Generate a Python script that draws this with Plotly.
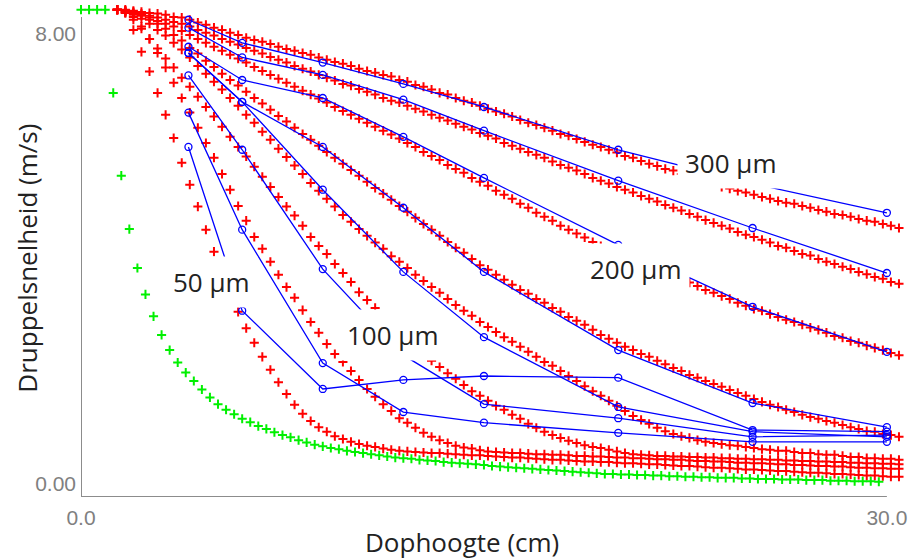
import numpy as np
import plotly.graph_objects as go

# ---------------- data ----------------
# sampling grid of the model curves (cm)
X_RED = np.round(1.35 + 0.3 * np.arange(98), 2)
X_GREEN = np.round(0.3 * np.arange(100), 2)
# measurement heights (cm)
X_BLUE = [4, 6, 9, 12, 15, 20, 25, 30]

# model curves (m/s), red
R1 = [8.42, 8.42, 8.40, 8.38, 8.36, 8.35, 8.33, 8.29, 8.28, 8.24,
      8.19, 8.15, 8.10, 8.06, 8.01, 7.97, 7.92, 7.88, 7.85, 7.81,
      7.76, 7.72, 7.69, 7.65, 7.62, 7.57, 7.53, 7.49, 7.46, 7.42,
      7.37, 7.33, 7.30, 7.26, 7.23, 7.17, 7.14, 7.08, 7.05, 7.00,
      6.94, 6.91, 6.85, 6.80, 6.77, 6.71, 6.66, 6.61, 6.57, 6.52,
      6.46, 6.41, 6.37, 6.32, 6.27, 6.21, 6.18, 6.12, 6.07, 6.02,
      5.98, 5.93, 5.88, 5.82, 5.79, 5.73, 5.68, 5.64, 5.59, 5.56,
      5.50, 5.45, 5.41, 5.36, 5.33, 5.27, 5.24, 5.20, 5.17, 5.13,
      5.09, 5.06, 5.02, 4.99, 4.97, 4.93, 4.90, 4.86, 4.83, 4.79,
      4.77, 4.74, 4.70, 4.67, 4.65, 4.61, 4.58, 4.54]
R2 = [8.42, 8.40, 8.38, 8.35, 8.31, 8.28, 8.24, 8.20, 8.17, 8.12,
      8.06, 8.01, 7.96, 7.90, 7.85, 7.80, 7.74, 7.69, 7.64, 7.58,
      7.53, 7.48, 7.42, 7.37, 7.32, 7.26, 7.21, 7.16, 7.10, 7.07,
      7.01, 6.96, 6.91, 6.85, 6.80, 6.77, 6.71, 6.66, 6.61, 6.55,
      6.50, 6.45, 6.39, 6.34, 6.29, 6.23, 6.18, 6.13, 6.05, 6.00,
      5.95, 5.89, 5.84, 5.79, 5.72, 5.66, 5.61, 5.56, 5.50, 5.43,
      5.38, 5.33, 5.27, 5.22, 5.17, 5.11, 5.06, 5.01, 4.95, 4.90,
      4.85, 4.79, 4.74, 4.68, 4.63, 4.58, 4.53, 4.47, 4.42, 4.38,
      4.33, 4.28, 4.22, 4.19, 4.13, 4.08, 4.05, 3.99, 3.94, 3.90,
      3.85, 3.81, 3.76, 3.72, 3.67, 3.64, 3.58, 3.55]
R3 = [8.42, 8.40, 8.36, 8.33, 8.28, 8.22, 8.17, 8.12, 8.04, 7.97,
      7.90, 7.83, 7.76, 7.69, 7.62, 7.55, 7.48, 7.40, 7.33, 7.26,
      7.19, 7.12, 7.05, 6.98, 6.91, 6.84, 6.77, 6.69, 6.62, 6.55,
      6.48, 6.41, 6.34, 6.27, 6.20, 6.13, 6.05, 5.98, 5.89, 5.82,
      5.75, 5.66, 5.59, 5.52, 5.43, 5.36, 5.29, 5.20, 5.13, 5.06,
      4.97, 4.90, 4.81, 4.74, 4.67, 4.58, 4.51, 4.44, 4.37, 4.29,
      4.22, 4.17, 4.10, 4.04, 3.97, 3.92, 3.87, 3.80, 3.74, 3.69,
      3.62, 3.57, 3.51, 3.44, 3.39, 3.33, 3.28, 3.21, 3.16, 3.10,
      3.07, 3.01, 2.96, 2.91, 2.87, 2.82, 2.77, 2.73, 2.68, 2.62,
      2.59, 2.53, 2.50, 2.45, 2.41, 2.37, 2.32, 2.28]
R4 = [8.42, 8.40, 8.36, 8.31, 8.24, 8.17, 8.08, 7.97, 7.87, 7.74,
      7.64, 7.51, 7.40, 7.28, 7.17, 7.07, 6.96, 6.85, 6.75, 6.64,
      6.53, 6.43, 6.32, 6.21, 6.11, 6.00, 5.89, 5.79, 5.68, 5.57,
      5.47, 5.36, 5.25, 5.15, 5.04, 4.93, 4.83, 4.72, 4.61, 4.51,
      4.40, 4.29, 4.19, 4.10, 3.99, 3.88, 3.80, 3.71, 3.62, 3.53,
      3.44, 3.37, 3.28, 3.21, 3.12, 3.05, 2.96, 2.89, 2.82, 2.73,
      2.64, 2.57, 2.50, 2.43, 2.37, 2.30, 2.25, 2.18, 2.12, 2.05,
      2.00, 1.93, 1.88, 1.82, 1.77, 1.72, 1.66, 1.61, 1.56, 1.50,
      1.45, 1.40, 1.36, 1.31, 1.27, 1.22, 1.18, 1.15, 1.11, 1.08,
      1.04, 1.00, 0.97, 0.93, 0.92, 0.88, 0.86, 0.83]
R5 = [8.42, 8.38, 8.33, 8.26, 8.17, 8.06, 7.96, 7.83, 7.71, 7.57,
      7.42, 7.28, 7.14, 7.00, 6.85, 6.71, 6.55, 6.41, 6.25, 6.11,
      5.95, 5.80, 5.65, 5.50, 5.34, 5.20, 5.06, 4.92, 4.77, 4.65,
      4.52, 4.40, 4.28, 4.17, 4.04, 3.94, 3.83, 3.71, 3.60, 3.49,
      3.39, 3.28, 3.17, 3.07, 2.98, 2.87, 2.78, 2.69, 2.60, 2.52,
      2.43, 2.34, 2.25, 2.16, 2.09, 2.00, 1.91, 1.82, 1.73, 1.64,
      1.56, 1.47, 1.38, 1.29, 1.20, 1.13, 1.06, 0.99, 0.93, 0.88,
      0.84, 0.81, 0.77, 0.74, 0.72, 0.70, 0.68, 0.67, 0.65, 0.63,
      0.61, 0.60, 0.58, 0.58, 0.56, 0.54, 0.54, 0.52, 0.51, 0.51,
      0.49, 0.47, 0.47, 0.45, 0.45, 0.44, 0.44, 0.42]
R6 = [8.42, 8.36, 8.24, 8.08, 7.90, 7.73, 7.55, 7.39, 7.21, 7.05,
      6.87, 6.69, 6.52, 6.34, 6.16, 5.98, 5.81, 5.63, 5.45, 5.27,
      5.09, 4.92, 4.76, 4.58, 4.38, 4.22, 4.08, 3.90, 3.74, 3.58,
      3.40, 3.26, 3.12, 2.98, 2.84, 2.69, 2.57, 2.43, 2.30, 2.18,
      2.07, 1.96, 1.86, 1.75, 1.64, 1.56, 1.47, 1.38, 1.31, 1.22,
      1.15, 1.06, 0.99, 0.92, 0.86, 0.81, 0.76, 0.72, 0.68, 0.65,
      0.63, 0.60, 0.57, 0.54, 0.52, 0.51, 0.50, 0.49, 0.49, 0.48,
      0.48, 0.47, 0.47, 0.46, 0.46, 0.45, 0.45, 0.44, 0.44, 0.43,
      0.43, 0.42, 0.42, 0.41, 0.41, 0.40, 0.40, 0.39, 0.39, 0.38,
      0.38, 0.37, 0.37, 0.36, 0.36, 0.35, 0.35, 0.34]
R7 = [8.42, 8.38, 8.29, 8.12, 7.90, 7.65, 7.39, 7.12, 6.85, 6.59,
      6.32, 6.05, 5.79, 5.50, 5.22, 4.93, 4.67, 4.38, 4.17, 3.94,
      3.71, 3.49, 3.30, 3.08, 2.87, 2.68, 2.48, 2.30, 2.16, 2.00,
      1.84, 1.68, 1.54, 1.41, 1.29, 1.16, 1.08, 0.99, 0.90, 0.83,
      0.77, 0.72, 0.67, 0.64, 0.62, 0.59, 0.57, 0.56, 0.55, 0.54,
      0.54, 0.53, 0.52, 0.52, 0.51, 0.51, 0.50, 0.49, 0.49, 0.48,
      0.48, 0.47, 0.46, 0.46, 0.45, 0.45, 0.44, 0.43, 0.43, 0.42,
      0.42, 0.41, 0.40, 0.40, 0.39, 0.39, 0.38, 0.37, 0.37, 0.36,
      0.36, 0.35, 0.34, 0.34, 0.33, 0.33, 0.32, 0.31, 0.31, 0.30,
      0.30, 0.29, 0.28, 0.28, 0.27, 0.27, 0.26, 0.26]
R8 = [8.42, 8.36, 8.06, 7.67, 7.32, 6.94, 6.55, 6.14, 5.70, 5.31,
      4.92, 4.51, 4.12, 3.74, 3.39, 3.05, 2.76, 2.50, 2.25, 2.02,
      1.80, 1.59, 1.40, 1.24, 1.11, 1.00, 0.92, 0.84, 0.79, 0.74,
      0.70, 0.67, 0.65, 0.62, 0.60, 0.58, 0.57, 0.56, 0.55, 0.54,
      0.54, 0.53, 0.52, 0.51, 0.50, 0.50, 0.49, 0.48, 0.47, 0.46,
      0.46, 0.45, 0.44, 0.43, 0.42, 0.42, 0.41, 0.40, 0.39, 0.39,
      0.38, 0.38, 0.37, 0.36, 0.36, 0.35, 0.34, 0.34, 0.33, 0.32,
      0.31, 0.31, 0.30, 0.29, 0.28, 0.28, 0.27, 0.26, 0.25, 0.25,
      0.24, 0.23, 0.22, 0.22, 0.21, 0.20, 0.19, 0.19, 0.18, 0.17,
      0.17, 0.16, 0.15, 0.14, 0.14, 0.13, 0.12, 0.12]
RED_CURVES = [R1, R2, R3, R4, R5, R6, R7, R8]

# green curve (m/s)
G = [8.42, 8.42, 8.42, 8.42, 6.94, 5.47, 4.52, 3.83, 3.36, 2.97,
     2.64, 2.37, 2.15, 1.97, 1.82, 1.67, 1.53, 1.41, 1.31, 1.23,
     1.15, 1.09, 1.02, 0.97, 0.91, 0.86, 0.82, 0.77, 0.73, 0.69,
     0.66, 0.63, 0.61, 0.58, 0.56, 0.54, 0.52, 0.50, 0.48, 0.46,
     0.45, 0.44, 0.42, 0.41, 0.40, 0.38, 0.37, 0.36, 0.35, 0.34,
     0.33, 0.31, 0.30, 0.29, 0.28, 0.27, 0.26, 0.25, 0.24, 0.23,
     0.22, 0.21, 0.20, 0.19, 0.18, 0.17, 0.17, 0.16, 0.16, 0.15,
     0.15, 0.14, 0.14, 0.13, 0.13, 0.12, 0.12, 0.11, 0.11, 0.10,
     0.10, 0.10, 0.09, 0.09, 0.08, 0.08, 0.08, 0.07, 0.07, 0.07,
     0.06, 0.06, 0.06, 0.05, 0.05, 0.05, 0.04, 0.04, 0.04, 0.03]

# measured series (m/s), blue
L1 = [8.24, 7.83, 7.48, 7.10, 6.69, 5.93, 5.33, 4.81]
L2 = [8.10, 7.57, 7.26, 6.82, 6.27, 5.38, 4.54, 3.74]
L3 = [7.76, 7.17, 6.85, 6.16, 5.43, 4.24, 3.14, 2.34]
L4 = [7.65, 6.78, 5.98, 4.90, 3.76, 2.37, 1.43, 1.00]
L5 = [7.65, 6.78, 5.22, 3.76, 2.60, 1.36, 0.92, 0.83]
L6 = [7.25, 5.93, 3.81, 2.28, 1.41, 1.16, 0.83, 0.86]
L7 = [6.59, 4.51, 2.14, 1.27, 1.08, 0.90, 0.74, 0.74]
L8 = [5.98, 3.07, 1.68, 1.84, 1.91, 1.88, 0.95, 0.92]
BLUE_CURVES = [L1, L2, L3, L4, L5, L6, L7, L8]

LABELS = ["300 µm", "200 µm", "100 µm", "50 µm"]
LABEL_X = [24.2, 20.65, 11.61, 4.84]
LABEL_Y = [5.70, 3.81, 2.63, 3.58]

X_TICKS = [0, 30]
X_TICKTEXT = ["0.0", "30.0"]
Y_TICKS = [0, 8]
Y_TICKTEXT = ["0.00", "8.00"]

X_AXIS_END = 30
Y_AXIS_BOTTOM = -0.24
Y_AXIS_TOP = 8.29

# ---------------- figure ----------------
fig = go.Figure()

for ys in RED_CURVES:
    fig.add_trace(go.Scatter(
        x=X_RED, y=ys, mode="markers", cliponaxis=False,
        marker=dict(symbol="cross-thin", size=6.5,
                    line=dict(width=2, color="#ff0000")),
        showlegend=False, hoverinfo="skip"))

fig.add_trace(go.Scatter(
    x=X_GREEN, y=G, mode="markers", cliponaxis=False,
    marker=dict(symbol="cross-thin", size=6.5,
                line=dict(width=2, color="#00f000")),
    showlegend=False, hoverinfo="skip"))

for ys in BLUE_CURVES:
    fig.add_trace(go.Scatter(
        x=X_BLUE, y=ys, mode="lines+markers", cliponaxis=False,
        line=dict(color="#0000ff", width=1.3),
        marker=dict(symbol="circle-open", size=7, color="#0000ff",
                    line=dict(width=1.3, color="#0000ff")),
        showlegend=False, hoverinfo="skip"))

for txt, lx, ly in zip(LABELS, LABEL_X, LABEL_Y):
    fig.add_annotation(x=lx, y=ly, xref="x", yref="y", text=txt,
                       showarrow=False, bgcolor="white", borderpad=7,
                       font=dict(family="Open Sans", size=26, color="#222222"))

fig.add_annotation(x=0.4635, y=-0.092, xref="paper", yref="paper",
                   text="Dophoogte (cm)", showarrow=False,
                   xanchor="center", yanchor="middle",
                   font=dict(family="Open Sans", size=26, color="#222222"))
fig.add_annotation(x=-0.066, y=0.485, xref="paper", yref="paper",
                   text="Druppelsnelheid (m/s)", showarrow=False,
                   textangle=-90, xanchor="center", yanchor="middle",
                   font=dict(family="Open Sans", size=26, color="#222222"))

# axis lines (drawn as shapes so the plot area can hold the marks that
# spill past the axis ends)
fig.add_shape(type="line", xref="x", yref="y",
              x0=0, x1=X_AXIS_END, y0=Y_AXIS_BOTTOM, y1=Y_AXIS_BOTTOM,
              line=dict(color="#8c8c8c", width=2), layer="below")
fig.add_shape(type="line", xref="x", yref="y",
              x0=0, x1=0, y0=Y_AXIS_BOTTOM, y1=Y_AXIS_TOP,
              line=dict(color="#8c8c8c", width=2), layer="below")

tickfont = dict(family="Liberation Sans Narrow, Liberation Sans, Arial",
                size=21, color="#808080")

# plot area: x 0..30.6 cm, y -0.24..8.52 m/s
fig.update_layout(
    width=914, height=560,
    margin=dict(l=81, r=11, t=4, b=63, pad=0),
    paper_bgcolor="white", plot_bgcolor="white",
    xaxis=dict(range=[0, 30.6], showgrid=False, zeroline=False,
               showline=False,
               tickvals=X_TICKS, ticktext=X_TICKTEXT, ticks="",
               tickfont=tickfont, ticklabelstandoff=6, fixedrange=True),
    yaxis=dict(range=[-0.24, 8.52], showgrid=False, zeroline=False,
               showline=False,
               tickvals=Y_TICKS, ticktext=Y_TICKTEXT, ticks="",
               tickfont=tickfont, ticklabelstandoff=4, fixedrange=True),
)

fig.write_html("out.html",
               config={"displayModeBar": False, "responsive": False},
               post_script="document.body.style.margin='0';")
